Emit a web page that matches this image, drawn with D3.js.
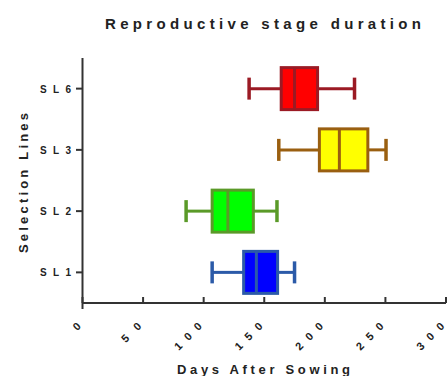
<!DOCTYPE html>
<html><head><meta charset="utf-8">
<script src="https://cdn.jsdelivr.net/npm/d3@7"></script>
<style>body{margin:0;background:#fff}svg{display:block}text{font-family:"Liberation Sans",Arial,sans-serif;font-weight:bold;fill:#222}</style>
</head><body>
<script>
const lines = ["SL1","SL2","SL3","SL6"];
const lineLabels = ["SL1","SL2","SL3","SL6"];
const whiskerLow = [107, 85.5, 162, 137.5];
const q1 = [133, 107, 195.5, 164];
const median = [143.5, 120, 212, 175];
const q3 = [161, 141, 235.5, 194];
const whiskerHigh = [175, 160.5, 250.5, 224.5];
const fills = ["#0000ff","#00ff00","#ffff00","#ff0000"];
const strokes = ["#2b5aa8","#5a9a28","#9a5f10","#9b1a24"];
const xTicks = [0,50,100,150,200,250,300];

const W=447,H=376;
const svg=d3.select("body").append("svg").attr("width",W).attr("height",H);
const x=d3.scaleLinear().domain([0,300]).range([82.5,446]);
const y=d3.scaleBand().domain(lines).range([303,58]);

// title
svg.append("text").attr("x",263).attr("y",29).attr("text-anchor","middle")
  .style("font-size","15px").attr("textLength",316).attr("lengthAdjust","spacing")
  .text("Reproductive stage duration");

// boxes
const data=lines.map((l,i)=>({l,i,lo:whiskerLow[i],q1:q1[i],md:median[i],q3:q3[i],hi:whiskerHigh[i]}));
const g=svg.append("g");
const bh=42, ch=22;
data.forEach(d=>{
  const cy=y(d.l)+y.bandwidth()/2;
  const s=strokes[d.i];
  g.append("line").attr("x1",x(d.lo)).attr("x2",x(d.q1)).attr("y1",cy).attr("y2",cy).attr("stroke",s).attr("stroke-width",3);
  g.append("line").attr("x1",x(d.q3)).attr("x2",x(d.hi)).attr("y1",cy).attr("y2",cy).attr("stroke",s).attr("stroke-width",3);
  g.append("line").attr("x1",x(d.lo)).attr("x2",x(d.lo)).attr("y1",cy-ch/2).attr("y2",cy+ch/2).attr("stroke",s).attr("stroke-width",3.5);
  g.append("line").attr("x1",x(d.hi)).attr("x2",x(d.hi)).attr("y1",cy-ch/2).attr("y2",cy+ch/2).attr("stroke",s).attr("stroke-width",3.5);
  g.append("rect").attr("x",x(d.q1)).attr("y",cy-bh/2).attr("width",x(d.q3)-x(d.q1)).attr("height",bh)
    .attr("fill",fills[d.i]).attr("stroke",s).attr("stroke-width",3);
  g.append("line").attr("x1",x(d.md)).attr("x2",x(d.md)).attr("y1",cy-bh/2).attr("y2",cy+bh/2).attr("stroke",s).attr("stroke-width",3);
});

// axes
const ax=svg.append("g").attr("stroke","#333").attr("stroke-width",2);
ax.append("line").attr("x1",82.5).attr("x2",82.5).attr("y1",58).attr("y2",309);
ax.append("line").attr("x1",82.5).attr("x2",446).attr("y1",303).attr("y2",303);
xTicks.forEach(t=>{
  ax.append("line").attr("x1",x(t)).attr("x2",x(t)).attr("y1",303).attr("y2",297);
  const s=String(t);
  const tx=svg.append("text").attr("text-anchor","end").style("font-size","11px")
    .attr("transform",`translate(${x(t)-1},${327}) rotate(-45)`).text(s);
  if(s.length>1) tx.attr("textLength",s.length===2?23:34).attr("lengthAdjust","spacing");
});
lines.forEach((l,i)=>{
  const cy=y(l)+y.bandwidth()/2;
  ax.append("line").attr("x1",76).attr("x2",82.5).attr("y1",cy).attr("y2",cy);
  svg.append("text").attr("x",71).attr("y",cy+4).attr("text-anchor","end")
    .style("font-size","10px").attr("textLength",31).attr("lengthAdjust","spacing").text(lineLabels[i]);
});

svg.append("text").attr("x",263.5).attr("y",374).attr("text-anchor","middle")
  .style("font-size","13px").attr("textLength",173).attr("lengthAdjust","spacing").text("Days After Sowing");
svg.append("text").attr("transform","translate(28,183) rotate(-90)").attr("text-anchor","middle")
  .style("font-size","13px").attr("textLength",140).attr("lengthAdjust","spacing").text("Selection Lines");
</script>
</body></html>
